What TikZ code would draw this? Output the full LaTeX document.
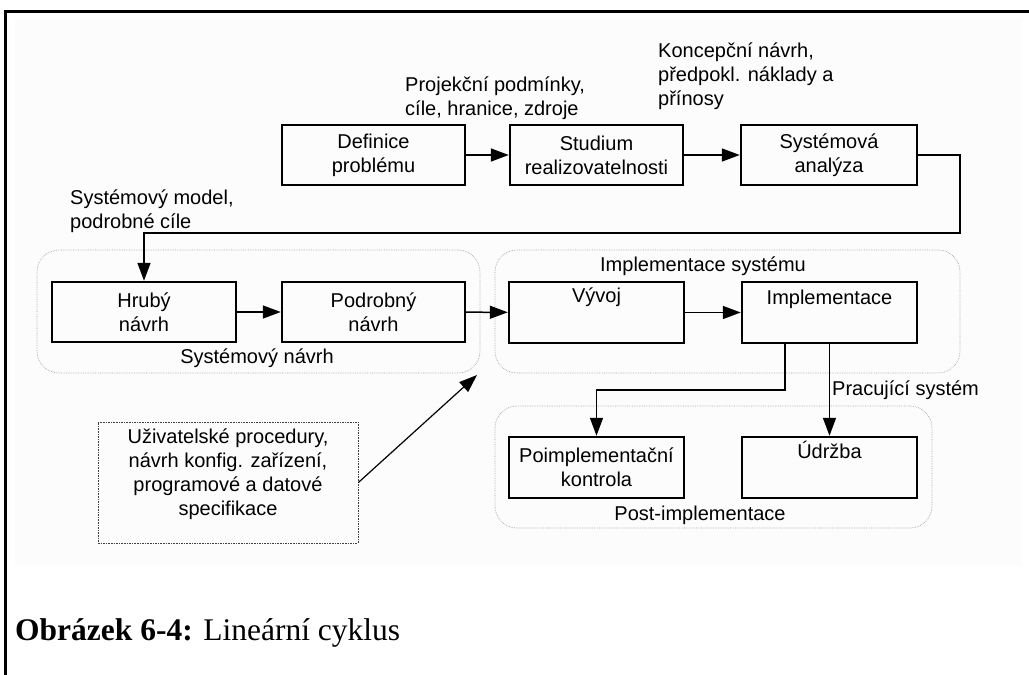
\documentclass[tikz,border=0pt]{standalone}
\usepackage{fontspec}
\setmainfont{Liberation Serif}
\newfontfamily\arialfont{Liberation Sans}
\usetikzlibrary{arrows.meta}

\begin{document}
\begin{tikzpicture}[x=1pt,y=-1pt,
  every node/.style={font=\arialfont\fontsize{20}{24}\selectfont, inner sep=0pt},
  stepbox/.style={draw, line width=2.4pt, minimum height=60pt, align=center},
  groupbox/.style={draw=gray!70, densely dotted, line width=0.7pt, rounded corners=22pt},
  notebox/.style={draw=black!75, dash pattern=on 1.6pt off 1pt, line width=0.8pt},
  arr/.style={line width=1.5pt, -{Triangle[length=18pt,width=13pt]}},
  toplabel/.style={anchor=north west, align=left}]

\useasboundingbox (0,0) rectangle (1029,675);

% faint page background and frame
\fill[fill={rgb,255:red,252;green,252;blue,252}] (15,18) rectangle (1022,566);
\draw[line width=3pt] (5,675) -- (5,11) -- (1029,11);

% phase groups
\node[groupbox, minimum width=443pt, minimum height=123pt] (gsn) at (258.5,311.5) {};
\node[groupbox, minimum width=465pt, minimum height=123pt] (gis) at (727.5,311.5) {};
\node[groupbox, minimum width=437pt, minimum height=122pt] (gpi) at (713.5,467) {};
\node (lsn) at (257,358) {Systémový návrh};
\node (lis) at (703,266) {Implementace systému};
\node (lpi) at (700,515) {Post-implementace};

% top row
\node[stepbox, minimum width=183pt] (def) at (373.5,155) {Definice\\problému};
\node[stepbox, minimum width=173pt] (stu) at (596.5,155) {Studium\\realizovatelnosti};
\node[stepbox, minimum width=176pt] (sys) at (829,155) {Systémová\\analýza};

% design row
\node[stepbox, minimum width=184pt] (hru) at (144,312) {Hrubý\\návrh};
\node[stepbox, minimum width=183pt] (pod) at (373.5,312) {Podrobný\\návrh};
\node[stepbox, minimum width=175pt, minimum height=61pt,
      label={[anchor=north, yshift=-7pt]north:Vývoj}] (vyv) at (596.5,312.5) {};
\node[stepbox, minimum width=175pt, minimum height=61pt,
      label={[anchor=north, yshift=-9pt]north:Implementace}] (imp) at (829.5,312.5) {};

% post-implementation row
\node[stepbox, minimum width=175pt, minimum height=61pt] (poi) at (596.5,467.5) {Poimplementační\\kontrola};
\node[stepbox, minimum width=175pt, minimum height=61pt,
      label={[anchor=north, yshift=-5pt]north:Údržba}] (udr) at (829.5,467.5) {};

% annotations
\node[toplabel] (lproj) at (405,77) {Projekční podmínky,\\cíle, hranice, zdroje};
\node[toplabel] (lkon) at (658,43) {Koncepční návrh,\\předpokl. náklady a\\přínosy};
\node[toplabel] (lmod) at (70,190) {Systémový model,\\podrobné cíle};
\node[anchor=west] (lpra) at (832,390) {Pracující systém};

\node[notebox, minimum width=260pt, minimum height=121pt,
      label={[anchor=north, yshift=-7pt, align=center]north:{Uživatelské procedury,\\návrh konfig. zařízení,\\programové a datové\\specifikace}}] (usr) at (228,482.5) {};

% connectors
\draw[arr] (def) -- (stu);
\draw[arr] (stu) -- (sys);
\coordinate (c1) at (960,233);
\draw[arr] (sys.east) -| (c1) -| (hru.north);
\draw[arr] (hru) -- (pod);
\draw[arr] (pod) -- (vyv);
\draw[arr] (vyv) -- (imp);
\coordinate (c2) at (785,390);
\draw[arr] (imp.south -| c2) -- (c2) -| (poi.north);
\draw[arr] (imp.south) -- (udr.north);
\coordinate (tip) at (477,375);
\draw[arr, line width=1.2pt] (usr.east) -- (tip);

% caption
\node[anchor=base west, font=\fontsize{31.5}{36}\selectfont] (cap) at (15,640)
  {\textbf{Obrázek 6-4:} Lineární cyklus};
\end{tikzpicture}
\end{document}
